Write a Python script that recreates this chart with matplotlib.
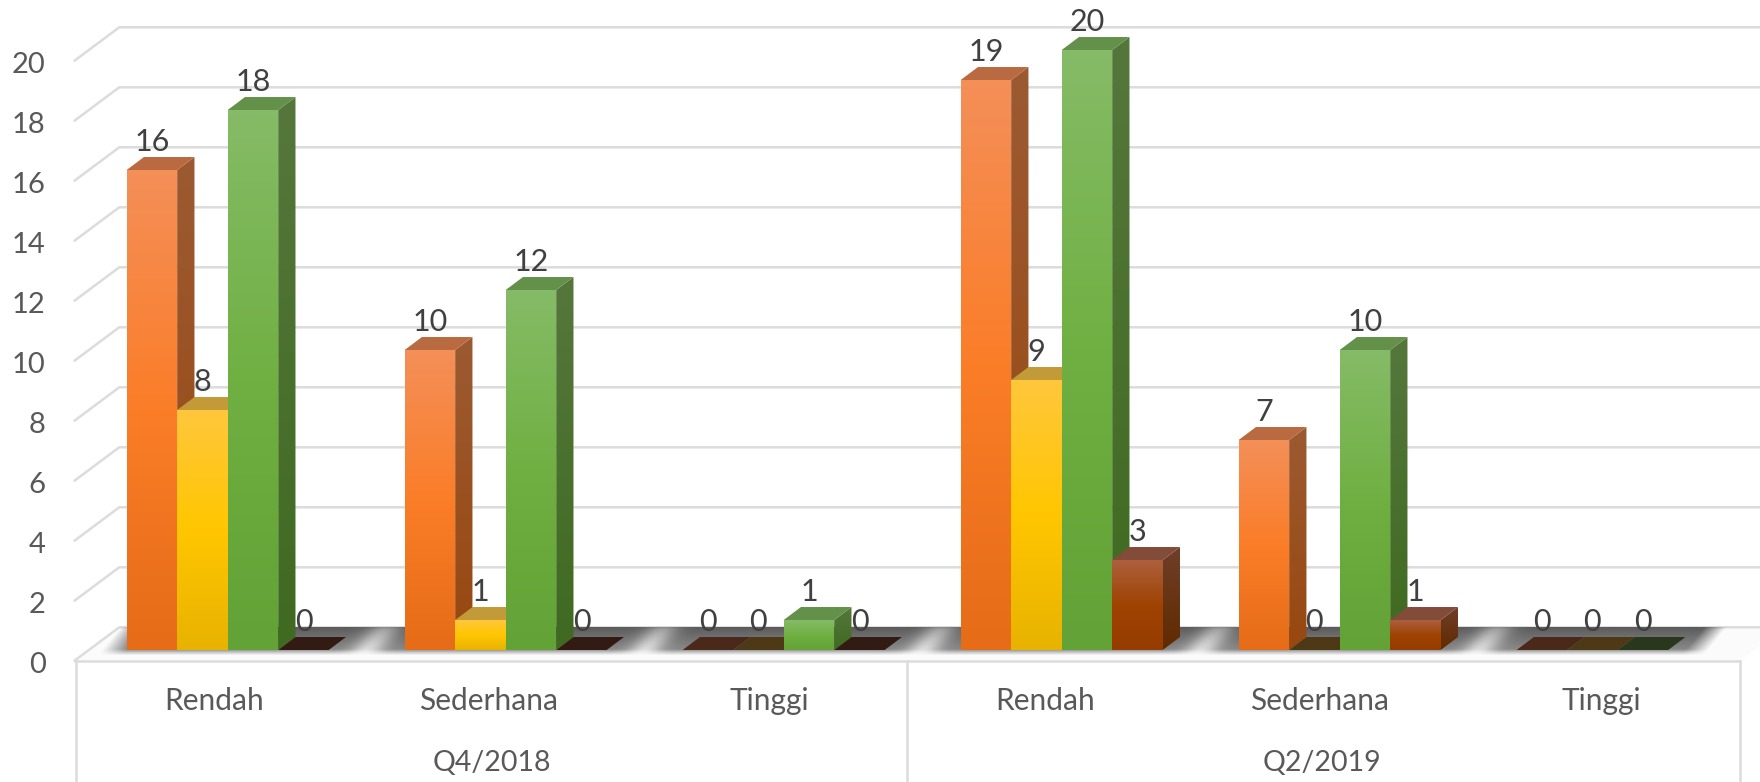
#!/usr/bin/env python3
# -*- coding: utf-8 -*-
import numpy as np
import matplotlib
matplotlib.use("Agg")
import matplotlib.pyplot as plt
from matplotlib.colors import LinearSegmentedColormap
from matplotlib.patches import Polygon

plt.rcParams['font.family'] = ['Lato', 'DejaVu Sans']

# =============================================================================
# Data
# =============================================================================
categories = ['Rendah', 'Sederhana', 'Tinggi', 'Rendah', 'Sederhana', 'Tinggi']
periods = ['Q4/2018', 'Q2/2019']
y_ticks = [0, 2, 4, 6, 8, 10, 12, 14, 16, 18, 20]

series_a = [16, 10, 0, 19, 7, 0]
series_b = [8, 1, 0, 9, 0, 0]
series_c = [18, 12, 1, 20, 10, 0]
series_d = [0, 0, 0, 3, 1, None]   # no fourth bar in the last group

# =============================================================================
# Styles
# =============================================================================
face_colors = [
    ['#F48F58', '#FB7D28', '#E66C17'],
    ['#FFC63C', '#FFC600', '#E8B300'],
    ['#85BB66', '#70B042', '#62A236'],
    ['#AD5F3D', '#9E4302', '#963C00'],
]
side_colors = [
    ['#9C5A32', '#98480F'],
    ['#A67C1E', '#9A7400'],
    ['#55773C', '#3F6A20'],
    ['#6F3E28', '#602B00'],
]
top_colors = ['#B96A40', '#C39A38', '#64914A', '#834C38']
zero_colors = ['#4A281A', '#4D3915', '#29381C', '#321B12']

GRID = '#DCDCDC'
bar_w = 0.1817        # width of one bar, in category units
dx = 0.0622           # depth of the 3d box, category units
dy = 0.433            # depth of the 3d box, value units

fig = plt.figure(figsize=(17.6, 7.82), dpi=100)
ax = fig.add_axes([0, 0, 1, 1])
ax.set_axis_off()
xlim = (-0.819, 5.512)
ylim = (-4.4, 21.667)


def vgrad(colors):
    return LinearSegmentedColormap.from_list('g', colors[::-1])


def gradient_poly(points, colors, z):
    xs = [p[0] for p in points]
    ys = [p[1] for p in points]
    img = np.linspace(1, 0, 64).reshape(-1, 1)
    im = ax.imshow(img, extent=[min(xs), max(xs), min(ys), max(ys)], aspect='auto',
                   cmap=vgrad(colors), vmin=0, vmax=1, zorder=z, interpolation='bilinear')
    patch = Polygon(points, closed=True, transform=ax.transData, fc='none', ec='none')
    ax.add_patch(patch)
    im.set_clip_path(patch)


# =============================================================================
# Walls and floor
# =============================================================================
grid_back_x = -0.39
grid_front_x = -0.55
back_off = 0.757
front_off = -0.35
for v in y_ticks[1:]:
    ax.plot([grid_front_x, grid_back_x, xlim[1]], [v + front_off, v + back_off, v + back_off],
            color=GRID, lw=1.8, zorder=1, solid_joinstyle='miter')

floor = Polygon([(-0.5457, front_off), (5.44, front_off), (5.60, back_off), (grid_back_x, back_off)],
                closed=True, fc='#FBFBFB', ec='none', zorder=2)
ax.add_patch(floor)
ax.plot([grid_front_x, grid_back_x, xlim[1]], [front_off, back_off, back_off], color=GRID, lw=1.8, zorder=2)
ax.plot([grid_front_x, 5.44], [front_off, front_off], color=GRID, lw=1.8, zorder=2)

# soft shadow on the floor
sx = np.linspace(-0.6, 5.512, 1700)
sy = np.linspace(-0.25, back_off, 40)
X, Y = np.meshgrid(sx, sy)
t = (Y - sy[0]) / (sy[-1] - sy[0])
Xs = X - 0.09 * t
alpha = np.clip((t - 0.08) / 0.2, 0, 1)
alpha = alpha * np.clip((Xs + 0.477) / 0.09, 0, 1) * np.clip((5.30 - Xs) / 0.08, 0, 1)
glow = np.zeros_like(X)
for i in range(5):
    glow += np.exp(-((Xs - (i + 0.476)) / 0.06) ** 2)
alpha = alpha * (1 - 0.85 * glow * (1 - 0.55 * t))
alpha = alpha * (0.62 + 0.38 * t)
shadow = np.zeros(X.shape + (4,))
shadow[..., :3] = 0.36
shadow[..., 3] = alpha
ax.imshow(shadow, extent=[sx[0], sx[-1], sy[0], sy[-1]], origin='lower', aspect='auto',
          zorder=3, interpolation='bilinear')

# =============================================================================
# Bars
# =============================================================================
all_series = [series_a, series_b, series_c, series_d]
z = 4
for i in range(len(categories)):
    for j, values in enumerate(all_series):
        v = values[i]
        if v is None:
            continue
        x0 = i - 2 * bar_w + j * bar_w
        x1 = x0 + bar_w
        top = [(x0, v), (x1, v), (x1 + dx, v + dy), (x0 + dx, v + dy)]
        if v == 0:
            ax.add_patch(Polygon(top, closed=True, fc=zero_colors[j], ec='none', zorder=z))
        else:
            gradient_poly([(x1, 0), (x1 + dx, dy), (x1 + dx, v + dy), (x1, v)], side_colors[j], z)
            ax.add_patch(Polygon(top, closed=True, fc=top_colors[j], ec='none', zorder=z))
            gradient_poly([(x0, 0), (x1, 0), (x1, v), (x0, v)], face_colors[j], z + 0.5)
        ax.text((x0 + x1) / 2, v + 0.92, str(v), ha='center', va='center', fontsize=22,
                color='#404040', zorder=100)
        z += 1

# =============================================================================
# Axis texts and lines
# =============================================================================
for v in y_ticks:
    ax.text(-0.654, v - 0.5, str(v), ha='right', va='center', fontsize=21, color='#595959')

for sep in [-0.5457, 2.444, 5.44]:
    ax.plot([sep, sep], [front_off, ylim[0]], color=GRID, lw=1.8, zorder=2)

cat_shift = [-0.047, -0.062, -0.05, -0.058, -0.072, -0.06]
for i, name in enumerate(categories):
    ax.text(i + cat_shift[i], -1.7, name, ha='center', va='center', fontsize=21.5, color='#595959')
for pos, name in zip([0.949, 3.936], periods):
    ax.text(pos, -3.75, name, ha='center', va='center', fontsize=20.5, color='#595959')

ax.set_xlim(xlim)
ax.set_ylim(ylim)
fig.savefig('out.png', dpi=100)
